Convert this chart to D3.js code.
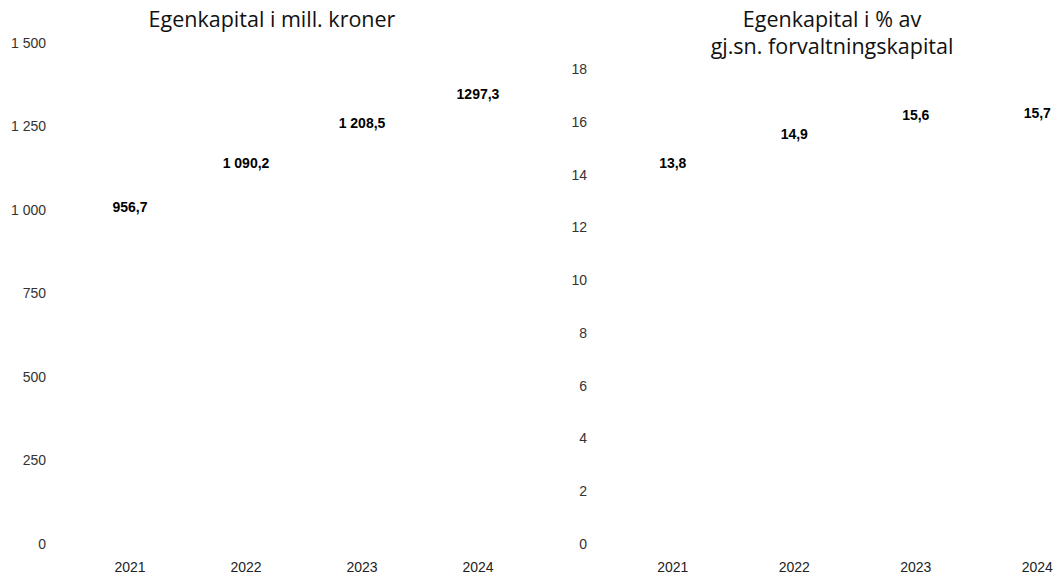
<!DOCTYPE html>
<html>
<head>
<meta charset="utf-8">
<script src="https://cdn.jsdelivr.net/npm/d3@7"></script>
<style>
    body { margin: 0; background: white; }
    svg { display: block; }
</style>
</head>
<body>
<div id="chart"></div>
<script>
// data
var years = ['2021', '2022', '2023', '2024'];
var equityMill = [956.7, 1090.2, 1208.5, 1297.3];
var equityMillLabels = ['956,7', '1 090,2', '1 208,5', '1297,3'];
var equityPct = [13.8, 14.9, 15.6, 15.7];
var equityPctLabels = ['13,8', '14,9', '15,6', '15,7'];
var millTicks = [0, 250, 500, 750, 1000, 1250, 1500];
var millTickLabels = ['0', '250', '500', '750', '1 000', '1 250', '1 500'];
var pctTicks = [0, 2, 4, 6, 8, 10, 12, 14, 16, 18];

var width = 1054, height = 575;

var svg = d3.select('#chart').append('svg')
    .attr('width', width)
    .attr('height', height);

// draw one panel
function drawPanel(opts) {
    var g = svg.append('g');

    var x = d3.scaleBand()
        .domain(years)
        .range([opts.left, opts.right])
        .paddingInner(0.4)
        .paddingOuter(0.2);

    var y = d3.scaleLinear()
        .domain([0, opts.max])
        .range([opts.bottom, opts.top]);

    // y axis (labels only)
    var yAxis = d3.axisLeft(y)
        .tickValues(opts.ticks)
        .tickFormat(function (d, i) { return opts.tickLabels[i]; })
        .tickSize(0)
        .tickPadding(0);
    var ya = g.append('g')
        .attr('transform', 'translate(' + opts.axisX + ',0)')
        .call(yAxis);
    ya.select('.domain').remove();
    ya.selectAll('text')
        .attr('font-family', 'Liberation Sans, Arial, sans-serif')
        .attr('font-size', 14)
        .attr('fill', '#333');

    // x axis (labels only)
    var xAxis = d3.axisBottom(x).tickSize(0).tickPadding(0);
    var xa = g.append('g')
        .attr('transform', 'translate(0,' + (opts.bottom + 18) + ')')
        .call(xAxis);
    xa.select('.domain').remove();
    xa.selectAll('text')
        .attr('font-family', 'Liberation Sans, Arial, sans-serif')
        .attr('font-size', 14)
        .attr('fill', '#222');

    // bars (white, invisible on background)
    g.selectAll('rect.bar')
        .data(opts.values)
        .enter()
        .append('rect')
        .attr('class', 'bar')
        .attr('x', function (d, i) { return x(years[i]); })
        .attr('y', function (d) { return y(d); })
        .attr('width', x.bandwidth())
        .attr('height', function (d) { return y(0) - y(d); })
        .attr('fill', 'white');

    // value labels
    g.selectAll('text.value')
        .data(opts.values)
        .enter()
        .append('text')
        .attr('class', 'value')
        .attr('x', function (d, i) { return x(years[i]) + x.bandwidth() / 2; })
        .attr('y', function (d) { return y(d) - 12; })
        .attr('text-anchor', 'middle')
        .attr('font-family', 'Liberation Sans, Arial, sans-serif')
        .attr('font-weight', 'bold')
        .attr('font-size', 14)
        .attr('fill', '#000')
        .text(function (d, i) { return opts.labels[i]; });

    // title, one text per line
    opts.title.forEach(function (line, i) {
        g.append('text')
            .attr('x', opts.titleX)
            .attr('y', 27 + i * 27)
            .attr('text-anchor', 'middle')
            .attr('font-family', 'Open Sans, sans-serif')
            .attr('font-size', 21.5)
            .attr('fill', '#111')
            .text(line);
    });
}

drawPanel({
    left: 72, right: 536, top: 43, bottom: 544,
    max: 1500, axisX: 46,
    ticks: millTicks, tickLabels: millTickLabels,
    values: equityMill, labels: equityMillLabels,
    title: ['Egenkapital i mill. kroner'], titleX: 272
});

drawPanel({
    left: 612, right: 1098, top: 69, bottom: 544,
    max: 18, axisX: 587,
    ticks: pctTicks, tickLabels: pctTicks.map(String),
    values: equityPct, labels: equityPctLabels,
    title: ['Egenkapital i % av', 'gj.sn. forvaltningskapital'], titleX: 832
});
</script>
</body>
</html>
